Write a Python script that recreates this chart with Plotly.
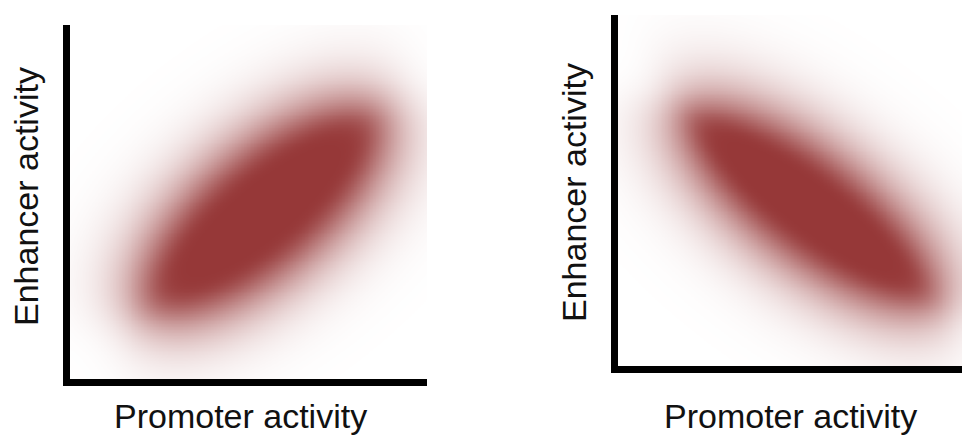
import math
import numpy as np
import plotly.graph_objects as go

# ---- text ----
x_title = "Promoter activity"
y_title = "Enhancer activity"

# ---- axis ranges (arbitrary activity units) ----
left_x_range = [0, 100]
left_y_range = [0, 100]
right_x_range = [0, 98]
right_y_range = [0, 100]

# ---- blurred cloud parameters (activity units) ----
left_center = [54.0, 47.5]
left_semi_axes = [44.0, 19.5]
left_angle_deg = 40.0

right_center = [54.5, 45.5]
right_semi_axes = [46.0, 17.5]
right_angle_deg = -37.0

blur_sigma = 7.5
cloud_color = "#963838"
grid_points = 241

_erfc = np.vectorize(math.erfc)


def cloud(x_range, y_range, center, semi, angle_deg):
    xs = np.linspace(x_range[0], x_range[1], grid_points)
    ys = np.linspace(y_range[0], y_range[1], grid_points)
    X, Y = np.meshgrid(xs, ys)
    th = np.radians(angle_deg)
    dx, dy = X - center[0], Y - center[1]
    u = dx * np.cos(th) + dy * np.sin(th)
    v = -dx * np.sin(th) + dy * np.cos(th)
    a, b = semi
    f = (u / a) ** 2 + (v / b) ** 2 - 1.0
    grad = 2.0 * np.sqrt((u / a**2) ** 2 + (v / b**2) ** 2)
    sd = np.clip(f / np.maximum(grad, 1e-9), -100, 100)
    z = 0.5 * _erfc(sd / (math.sqrt(2) * blur_sigma))
    return xs, ys, z


fig = go.Figure()

for xr, yr, c, s, ang, xa, ya in [
    (left_x_range, left_y_range, left_center, left_semi_axes, left_angle_deg, "x", "y"),
    (right_x_range, right_y_range, right_center, right_semi_axes, right_angle_deg, "x2", "y2"),
]:
    xs, ys, z = cloud(xr, yr, c, s, ang)
    fig.add_trace(go.Heatmap(
        x=xs, y=ys, z=z, xaxis=xa, yaxis=ya,
        zmin=0, zmax=1, zsmooth="best",
        colorscale=[[0, "#ffffff"], [1, cloud_color]],
        showscale=False, hoverinfo="skip",
    ))

W, H = 962, 436
axis_style = dict(showline=True, linecolor="black", linewidth=7, mirror=False,
                  showgrid=False, zeroline=False, showticklabels=False,
                  ticks="", fixedrange=True)

fig.update_layout(
    width=W, height=H,
    margin=dict(l=0, r=0, t=0, b=0),
    paper_bgcolor="white", plot_bgcolor="white",
    showlegend=False,
    xaxis=dict(domain=[70 / W, 427 / W], range=left_x_range, anchor="y", **axis_style),
    yaxis=dict(domain=[1 - 379 / H, 1 - 25 / H], range=left_y_range, anchor="x", **axis_style),
    xaxis2=dict(domain=[618 / W, 1.0], range=right_x_range, anchor="y2", **axis_style),
    yaxis2=dict(domain=[1 - 366 / H, 1 - 15 / H], range=right_y_range, anchor="x2", **axis_style),
)

font = dict(family="Liberation Sans, Arial, sans-serif", size=34, color="#111111")
ann = [
    dict(text=x_title, x=240 / W, y=1 - 416 / H, textangle=0),
    dict(text=x_title, x=790 / W, y=1 - 416 / H, textangle=0),
    dict(text=y_title, x=26 / W, y=1 - 197 / H, textangle=-90),
    dict(text=y_title, x=574 / W, y=1 - 193 / H, textangle=-90),
]
for a in ann:
    fig.add_annotation(xref="paper", yref="paper", xanchor="center", yanchor="middle",
                       showarrow=False, font=font, **a)

fig.write_html("out.html", config={"displayModeBar": False},
               post_script="document.body.style.margin='0';document.body.style.overflow='hidden';")
